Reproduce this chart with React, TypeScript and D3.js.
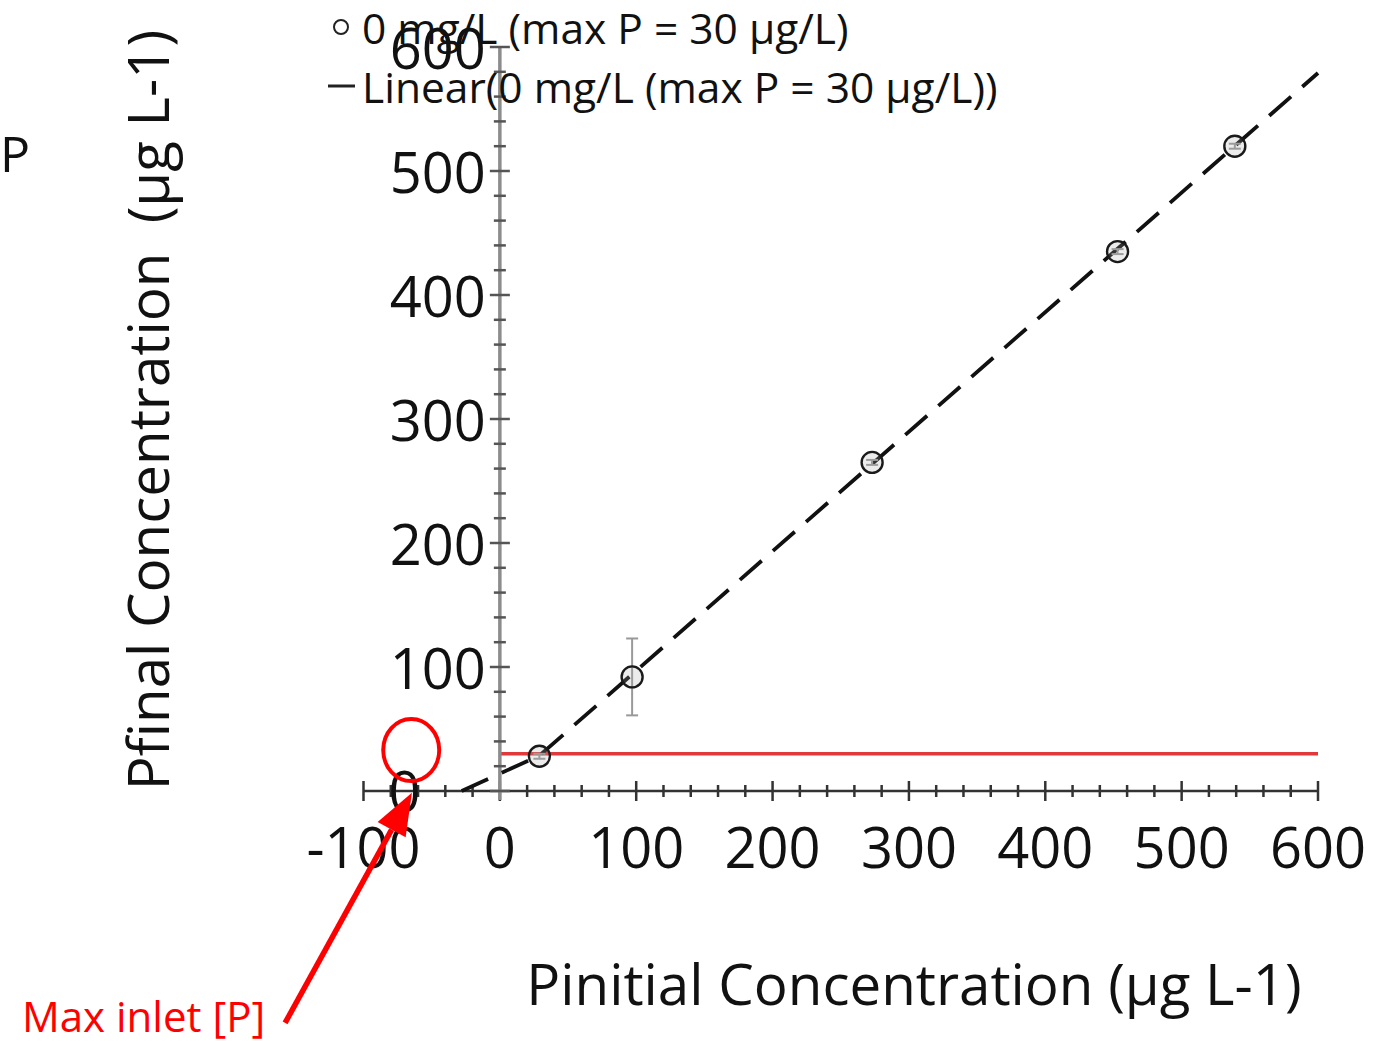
import React, { useEffect, useRef } from 'react';
import * as d3 from 'd3';

// measured points (Pinitial, Pfinal) and their error
const pointX = [29, 97, 273, 453, 539];
const pointY = [28, 92, 265, 435, 520];
const pointErr = [2, 31, 2, 2, 2];

// dashed "Linear" trend as drawn
const trendX = [-28, 29, 600];
const trendY = [0, 28.5, 579];

// red limit line (max P = 30)
const limitX = [0, 600];
const limitY = [30, 30];

const xTicks = [-100, 0, 100, 200, 300, 400, 500, 600];
const yTicks = [100, 200, 300, 400, 500, 600];
const legendLabels = ['0 mg/L (max P = 30 µg/L)', 'Linear(0 mg/L (max P = 30 µg/L))'];

const App = () => {
  const chartRef = useRef(null);

  useEffect(() => {
    const svg = d3.select(chartRef.current);
    svg.selectAll('*').remove();
    const font = "'Open Sans', sans-serif";

    const x = d3.scaleLinear().domain([-100, 600]).range([363.5, 1318]);
    const y = d3.scaleLinear().domain([0, 600]).range([791, 47]);

    // red limit line
    svg.append('line')
      .attr('x1', x(limitX[0])).attr('x2', x(limitX[1]))
      .attr('y1', y(limitY[0])).attr('y2', y(limitY[1]))
      .attr('stroke', '#e0383b').attr('stroke-width', 3.5);

    // x axis
    const xa = svg.append('g');
    xa.append('line')
      .attr('x1', x(-100)).attr('x2', x(600))
      .attr('y1', y(0)).attr('y2', y(0))
      .attr('stroke', '#333').attr('stroke-width', 2.5);
    xa.selectAll('.minor')
      .data(d3.range(-100, 601, 20))
      .enter()
      .append('line')
      .attr('x1', (d) => x(d)).attr('x2', (d) => x(d))
      .attr('y1', (d) => y(0) - (d % 100 === 0 ? 10 : 6))
      .attr('y2', (d) => y(0) + (d % 100 === 0 ? 10 : 6))
      .attr('stroke', '#333').attr('stroke-width', 2.5);
    xa.selectAll('.lbl')
      .data(xTicks)
      .enter()
      .append('text')
      .attr('x', (d) => x(d))
      .attr('y', 868)
      .attr('text-anchor', 'middle')
      .style('font-family', font)
      .style('font-size', '56px')
      .attr('fill', '#111')
      .text((d) => String(d));

    // y axis
    const ya = svg.append('g');
    ya.append('line')
      .attr('x1', x(0)).attr('x2', x(0))
      .attr('y1', y(0) + 9).attr('y2', y(600))
      .attr('stroke', '#8c8c8c').attr('stroke-width', 3.5);
    ya.selectAll('.minor')
      .data(d3.range(0, 601, 20))
      .enter()
      .append('line')
      .attr('y1', (d) => y(d)).attr('y2', (d) => y(d))
      .attr('x1', (d) => x(0) - (d % 100 === 0 ? 10 : 6))
      .attr('x2', (d) => x(0) + (d % 100 === 0 ? 10 : 6))
      .attr('stroke', '#555').attr('stroke-width', 2.5);
    ya.selectAll('.lbl')
      .data(yTicks)
      .enter()
      .append('text')
      .attr('x', x(0) - 14)
      .attr('y', (d) => y(d) + 22)
      .attr('text-anchor', 'end')
      .style('font-family', font)
      .style('font-size', '56px')
      .attr('fill', '#111')
      .text((d) => String(d));
    // the stray "0" label sits left of the axis
    ya.append('text')
      .attr('x', x(-70))
      .attr('y', y(0) + 21)
      .attr('text-anchor', 'middle')
      .style('font-family', font)
      .style('font-size', '56px')
      .attr('fill', '#111')
      .text('0');

    // trend line
    const line = d3.line()
      .x((d) => x(d[0]))
      .y((d) => y(d[1]));
    svg.append('path')
      .datum(trendX.map((v, i) => [v, trendY[i]]))
      .attr('d', line)
      .attr('fill', 'none')
      .attr('stroke', '#111')
      .attr('stroke-width', 3.8)
      .attr('stroke-dasharray', '29 15');

    // error bars
    const pts = pointX.map((v, i) => ({ x: v, y: pointY[i], e: pointErr[i] }));
    const eb = svg.selectAll('.err').data(pts).enter().append('g');
    eb.append('line')
      .attr('x1', (d) => x(d.x)).attr('x2', (d) => x(d.x))
      .attr('y1', (d) => y(d.y - d.e)).attr('y2', (d) => y(d.y + d.e))
      .attr('stroke', '#999').attr('stroke-width', 2);
    eb.selectAll('.cap')
      .data((d) => [d.y - d.e, d.y + d.e].map((v) => ({ x: d.x, v })))
      .enter()
      .append('line')
      .attr('x1', (d) => x(d.x) - 6).attr('x2', (d) => x(d.x) + 6)
      .attr('y1', (d) => y(d.v)).attr('y2', (d) => y(d.v))
      .attr('stroke', '#999').attr('stroke-width', 2);

    // points
    svg.selectAll('.pt')
      .data(pts)
      .enter()
      .append('circle')
      .attr('cx', (d) => x(d.x))
      .attr('cy', (d) => y(d.y))
      .attr('r', 10.5)
      .attr('fill', 'rgba(170,170,170,0.22)')
      .attr('stroke', '#1a1a1a')
      .attr('stroke-width', 2.4);

    // legend
    const lg = svg.append('g');
    lg.append('circle')
      .attr('cx', 341).attr('cy', 27).attr('r', 7)
      .attr('fill', 'none').attr('stroke', '#222').attr('stroke-width', 2);
    lg.append('line')
      .attr('x1', 328).attr('x2', 355).attr('y1', 86).attr('y2', 86)
      .attr('stroke', '#222').attr('stroke-width', 3);
    lg.selectAll('text')
      .data(legendLabels)
      .enter()
      .append('text')
      .attr('x', 362)
      .attr('y', (d, i) => 44 + i * 59)
      .style('font-family', font)
      .style('font-size', '42.5px')
      .attr('fill', '#111')
      .text((d) => d);

    // axis titles
    svg.append('text')
      .attr('transform', 'translate(169,410) rotate(-90)')
      .attr('text-anchor', 'middle')
      .style('font-family', font)
      .style('font-size', '56.5px')
      .attr('fill', '#111')
      .attr('xml:space', 'preserve')
      .text('Pfinal Concentration  (µg L-1)');
    svg.append('text')
      .attr('x', 914)
      .attr('y', 1005)
      .attr('text-anchor', 'middle')
      .style('font-family', font)
      .style('font-size', '56.5px')
      .attr('fill', '#111')
      .text('Pinitial Concentration (µg L-1)');

    svg.append('text')
      .attr('x', 0).attr('y', 172)
      .style('font-family', font)
      .style('font-size', '50px')
      .attr('fill', '#111')
      .text('P');

    // annotation: red ring, arrow and label
    const red = '#ff0000';
    svg.append('ellipse')
      .attr('cx', x(-65)).attr('cy', y(33))
      .attr('rx', 28).attr('ry', 31)
      .attr('fill', 'none').attr('stroke', red).attr('stroke-width', 4);
    const tip = [x(-64.5), y(-1.5)];
    const tail = [x(-157.5), y(-187)];
    const ang = Math.atan2(tip[1] - tail[1], tip[0] - tail[0]);
    const headLen = 42;
    const headW = 16;
    const bx = tip[0] - headLen * Math.cos(ang);
    const by = tip[1] - headLen * Math.sin(ang);
    svg.append('line')
      .attr('x1', tail[0]).attr('y1', tail[1])
      .attr('x2', bx).attr('y2', by)
      .attr('stroke', red).attr('stroke-width', 5.5);
    svg.append('path')
      .attr('d', `M${tip[0]},${tip[1]}L${bx + headW * Math.sin(ang)},${by - headW * Math.cos(ang)}L${bx - headW * Math.sin(ang)},${by + headW * Math.cos(ang)}Z`)
      .attr('fill', red);
    svg.append('text')
      .attr('x', 22).attr('y', 1032)
      .style('font-family', font)
      .style('font-size', '42px')
      .attr('fill', red)
      .text('Max inlet [P]');

  // eslint-disable-next-line react-hooks/exhaustive-deps
  }, []);

  return (
    <svg
      ref={chartRef}
      width={1375}
      height={1041}
      style={{ position: 'absolute', left: 0, top: 0, background: '#fff' }}
    />
  );
};

export default App;
